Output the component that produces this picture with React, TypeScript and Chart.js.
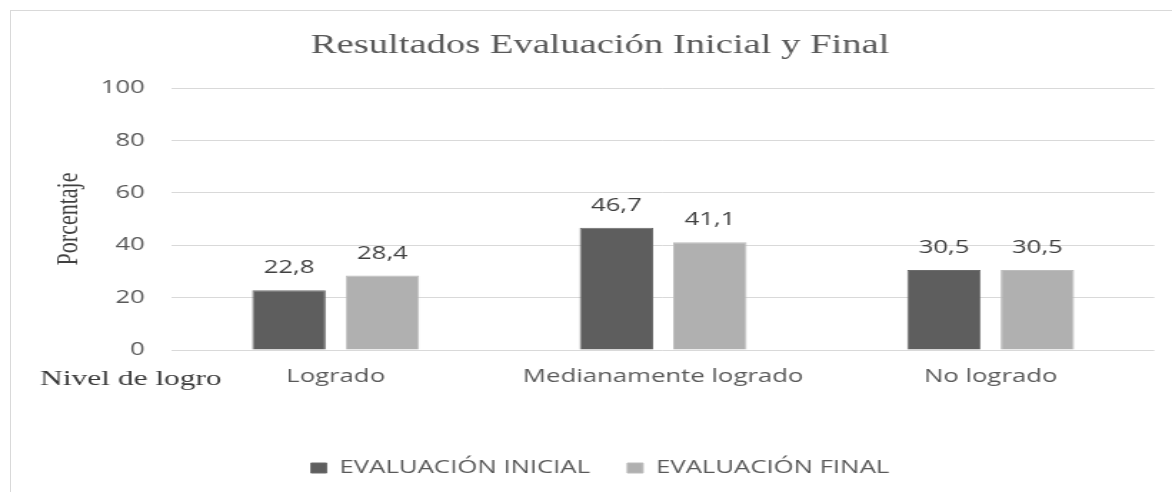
import React, { useEffect, useRef } from "react";
import { Chart, registerables } from "chart.js";

Chart.register(...registerables);

const chartTitle = "Resultados Evaluación Inicial y Final";
const yAxisTitle = "Porcentaje";
const xAxisTitle = "Nivel de logro";
const categories = ["Logrado", "Medianamente logrado", "No logrado"];
const seriesNames = ["EVALUACIÓN INICIAL", "EVALUACIÓN FINAL"];
const inicialValues = [22.8, 46.7, 30.5];
const finalValues = [28.4, 41.1, 30.5];
const yMin = 0;
const yMax = 100;
const yStep = 20;

const LOGICAL_W = 820;
const H = 492;
const SCREEN_W = 1172;

const valueLabelsPlugin = {
  id: "valueLabels",
  afterDatasetsDraw(chart: any) {
    const ctx = chart.ctx;
    ctx.save();
    ctx.font = '18px "Open Sans"';
    ctx.fillStyle = "#404040";
    ctx.textAlign = "center";
    ctx.textBaseline = "alphabetic";
    chart.data.datasets.forEach((ds: any, di: number) => {
      const meta = chart.getDatasetMeta(di);
      meta.data.forEach((el: any, i: number) => {
        const v = ds.data[i] as number;
        ctx.fillText(v.toFixed(1).replace(".", ","), el.x, el.y - 17);
      });
    });
    ctx.font = '22px "Liberation Serif"';
    ctx.fillStyle = "#3a3a3a";
    ctx.textAlign = "left";
    const xScale = chart.scales.x;
    ctx.fillText(xAxisTitle, 28, xScale.top + 35);
    ctx.restore();
  },
};

export default function App() {
  const canvasRef = useRef<HTMLCanvasElement | null>(null);

  useEffect(() => {
    if (!canvasRef.current) return;
    const chart = new Chart(canvasRef.current, {
      type: "bar",
      data: {
        labels: categories,
        datasets: [
          {
            label: seriesNames[0],
            data: inicialValues,
            backgroundColor: "#5e5e5e",
            borderColor: "#6c6c6c",
            borderWidth: 1,
            categoryPercentage: 0.571,
            barPercentage: 0.786,
          },
          {
            label: seriesNames[1],
            data: finalValues,
            backgroundColor: "#b0b0b0",
            borderColor: "#bcbcbc",
            borderWidth: 1,
            categoryPercentage: 0.571,
            barPercentage: 0.786,
          },
        ],
      },
      options: {
        responsive: false,
        animation: false,
        devicePixelRatio: 1,
        layout: { padding: { top: 10, left: 32, right: 12.3, bottom: 5 } },
        plugins: {
          title: {
            display: true,
            text: chartTitle,
            color: "#595959",
            font: { family: "Liberation Serif", size: 27, weight: "normal" },
            padding: { top: 19.8, bottom: 25.8 },
          },
          legend: {
            display: true,
            position: "bottom",
            labels: {
              boxWidth: 11,
              boxHeight: 10,
              padding: 26,
              color: "#595959",
              font: { family: "Open Sans", size: 18 },
            },
          },
          tooltip: { enabled: false },
        },
        scales: {
          x: {
            grid: { display: false, drawTicks: false },
            border: { display: false },
            ticks: {
              color: "#595959",
              font: { family: "Open Sans", size: 18 },
              padding: 16,
              maxRotation: 0,
            },
            afterFit: (scale: any) => {
              scale.height = 83;
            },
          },
          y: {
            min: yMin,
            max: yMax,
            grid: { color: "#d9d9d9", lineWidth: 1, drawTicks: false },
            border: { display: false },
            ticks: {
              stepSize: yStep,
              color: "#595959",
              font: { family: "Open Sans", size: 18 },
              padding: 19,
            },
            title: {
              display: true,
              text: yAxisTitle,
              color: "#404040",
              font: { family: "Liberation Serif", size: 22, weight: "normal" },
              padding: { top: 3.4, bottom: 0 },
            },
            afterFit: (scale: any) => {
              scale.width = 88.3;
            },
          },
        },
      },
      plugins: [valueLabelsPlugin],
    });
    return () => chart.destroy();
  }, []);

  return (
    <div
      style={{
        position: "fixed",
        left: 0,
        top: 0,
        width: SCREEN_W,
        height: H,
        overflow: "hidden",
        background: "#ffffff",
      }}
    >
      <div
        style={{
          position: "absolute",
          left: 10,
          top: 10,
          width: 1400,
          height: 800,
          border: "1px solid #d9d9d9",
          boxSizing: "border-box",
        }}
      />
      <canvas
        ref={canvasRef}
        width={LOGICAL_W}
        height={H}
        style={{
          position: "absolute",
          left: 0,
          top: 0,
          width: SCREEN_W + "px",
          height: H + "px",
        }}
      />
    </div>
  );
}
